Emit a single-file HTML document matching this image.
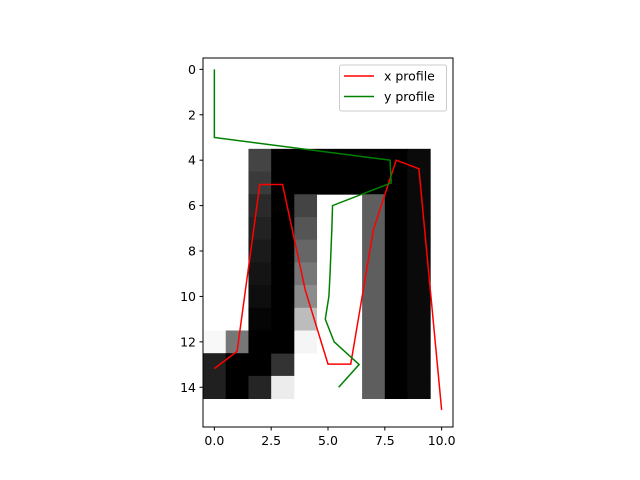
<!DOCTYPE html>
<html><head><meta charset="utf-8"><style>body{margin:0;background:#fff}svg{display:block;font-family:"DejaVu Sans","Liberation Sans",sans-serif}</style></head>
<body>
<svg id="chart" width="640" height="480" viewBox="0 0 640 480"></svg>
<script>
const xProfileX=[0,1,2,3,4,5,6,7,8,9,10];
const xProfileY=[13.18,12.42,5.07,5.07,9.72,12.98,12.98,7.05,4.0,4.38,15.0];
const yProfileY=[0,1,2,3,4,5,6,7,8,9,10,11,12,13,14];
const yProfileX=[0,0,0,0,7.73,7.78,5.2,5.17,5.13,5.09,5.04,4.88,5.27,6.37,5.47];
const xTicks=[0,2.5,5,7.5,10];
const xTickLabels=["0.0","2.5","5.0","7.5","10.0"];
const yTicks=[0,2,4,6,8,10,12,14];
// image cells: [row, col, gray]
const cells=[
[4,2,0x44],[4,3,0],[4,4,0],[4,5,0],[4,6,0],[4,7,0],[4,8,0],[4,9,0x0a],
[5,2,0x3a],[5,3,0],[5,4,0],[5,5,0],[5,6,0],[5,7,0],[5,8,0],[5,9,0x0a],
[6,2,0x2a],[6,4,0x44],[7,2,0x22],[7,4,0x55],[8,2,0x1a],[8,4,0x66],
[9,2,0x14],[9,4,0x77],[10,2,0x0e],[10,4,0x8c],[11,2,0x05],[11,4,0xbc],
[12,0,0xf8],[12,1,0x77],[12,2,0],[12,4,0xf5],
[13,0,0x20],[13,1,0],[13,2,0],[13,3,0x33],
[14,0,0x20],[14,1,0],[14,2,0x25],[14,3,0xec]
];
for(let r=6;r<=14;r++){cells.push([r,7,0x5e]);cells.push([r,8,0]);cells.push([r,9,0x0a]);}
for(let r=6;r<=12;r++){cells.push([r,3,0]);}
const L=203,T=58,R=453,B=427,x0=-0.5,x1=10.5,y0=-0.5,y1=15.75;
const sx=v=>L+(v-x0)/(x1-x0)*(R-L);
const sy=v=>T+(v-y0)/(y1-y0)*(B-T);
const svg=document.getElementById('chart');
const NS='http://www.w3.org/2000/svg';
function mk(t,a,p){const e=document.createElementNS(NS,t);for(const k in a)e.setAttribute(k,a[k]);(p||svg).appendChild(e);return e;}
const img=mk('g',{});


cells.forEach(([r,c,g])=>{
 const e=mk('rect',{x:sx(c-0.5),y:sy(r-0.5),width:sx(c+0.5)-sx(c-0.5)+0.4,height:sy(r+0.5)-sy(r-0.5)+0.4,fill:`rgb(${g},${g},${g})`},img);
 
 
});
const lx=mk('polyline',{points:xProfileX.map((x,i)=>sx(x)+','+sy(xProfileY[i])).join(' '),fill:'none',stroke:'#ff0000','stroke-width':1.5});


const ly=mk('polyline',{points:yProfileY.map((y,i)=>sx(yProfileX[i])+','+sy(y)).join(' '),fill:'none',stroke:'#008000','stroke-width':1.5});


const ax=mk('rect',{x:L,y:T,width:R-L,height:B-T,fill:'none',stroke:'#000','stroke-width':1});


xTicks.forEach((t,i)=>{
 mk('line',{x1:sx(t),x2:sx(t),y1:B,y2:B+3.5,stroke:'#000'});
 const e=mk('text',{x:sx(t),y:B+18,'text-anchor':'middle','font-size':12.5});e.textContent=xTickLabels[i];
 
 
});
yTicks.forEach(t=>{
 mk('line',{x1:L,x2:L-3.5,y1:sy(t),y2:sy(t),stroke:'#000'});
 const e=mk('text',{x:L-7,y:sy(t)+4.5,'text-anchor':'end','font-size':12.5});e.textContent=t;
 
 
});
const lg=mk('g',{});


mk('rect',{x:339.5,y:65,width:107,height:46,rx:2,fill:'#fff','fill-opacity':0.8,stroke:'#ccc'},lg);
[['x profile','#ff0000'],['y profile','#008000']].forEach(([n,c],i)=>{
 const y=76+i*20.5;
 mk('line',{x1:344,x2:374,y1:y,y2:y,stroke:c,'stroke-width':1.5},lg);
 const e=mk('text',{x:384,y:y+4.5,'font-size':12.5},lg);e.textContent=n;
 
 
});
</script>
</body></html>
